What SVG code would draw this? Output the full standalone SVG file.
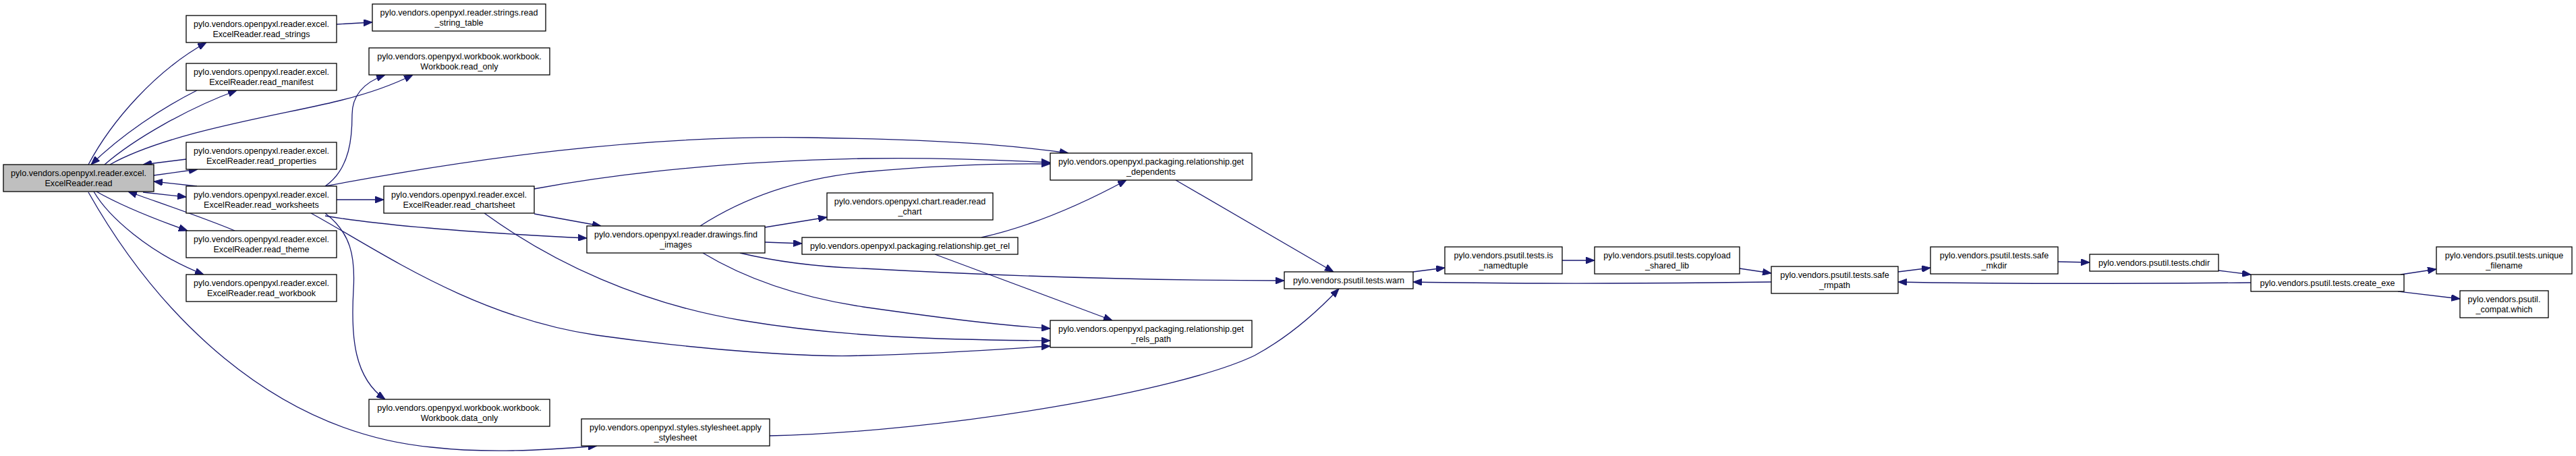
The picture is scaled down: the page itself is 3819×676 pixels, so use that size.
<svg xmlns="http://www.w3.org/2000/svg" width="3819" height="676" viewBox="0 0 3819 676">
<defs>
<style>
.node rect{fill:#fff;stroke:#000;stroke-width:1.3}
.main rect{fill:#bfbfbf}
.node text{font-family:"Liberation Sans",Arial,sans-serif;font-size:12.6px;text-anchor:middle;fill:#000}
.edges path{fill:none;stroke:#191970;stroke-width:1.3;marker-end:url(#arr)}
</style>
<marker id="arr" markerUnits="userSpaceOnUse" viewBox="0 0 13 10" refX="13" refY="5" markerWidth="13" markerHeight="10" orient="auto"><path d="M0,0 L13,5 L0,10 z" fill="#191970" stroke="#191970" stroke-width="1"/></marker>
</defs>
<rect width="3819" height="676" fill="#fff"/>
<g id="edges" class="edges">
<path d="M131,244 C165,180 230,105 306,63"/>
<path d="M499,36 L552,33"/>
<path d="M292,134 C240,160 180,200 135,244"/>
<path d="M155,244 C200,205 280,160 351,134"/>
<path d="M163,244 C250,195 420,170 500,150 C550,138 590,122 612,111"/>
<path d="M276,236 L212,244"/>
<path d="M228,260 L293,251"/>
<path d="M292,276 L228,269"/>
<path d="M212,285 L276,292"/>
<path d="M348,342 C300,322 240,302 190,284"/>
<path d="M143,284 C180,305 230,325 278,342"/>
<path d="M139,284 C160,320 220,375 302,407"/>
<path d="M131,285 C230,460 400,640 640,663 C720,672 800,668 885,661"/>
<path d="M482,276 C520,250 522,200 522,170 C522,140 540,122 571,111"/>
<path d="M482,276 C700,235 950,200 1200,204 C1400,207 1500,215 1584,227"/>
<path d="M499,296 L569,296"/>
<path d="M482,320 C560,333 700,345 870,353"/>
<path d="M482,316 C520,345 527,380 524,430 C520,500 525,560 571,592"/>
<path d="M461,316 C560,370 700,470 885,497 C1050,520 1200,530 1280,527 C1400,524 1480,518 1557,513"/>
<path d="M792,280 C900,260 1050,240 1280,235 C1400,233 1500,238 1557,241"/>
<path d="M792,317 L891,335"/>
<path d="M718,316 C820,390 950,450 1100,475 C1250,500 1400,504 1557,505"/>
<path d="M1038,335 C1100,295 1180,265 1280,255 C1380,246 1480,242 1557,243"/>
<path d="M1134,337 L1226,322"/>
<path d="M1134,359 L1189,361"/>
<path d="M1097,375 C1160,390 1220,396 1280,398 C1500,410 1700,416 1904,416"/>
<path d="M1042,375 C1100,410 1180,440 1280,455 C1400,472 1480,482 1557,487"/>
<path d="M1455,352 C1530,335 1600,305 1670,267"/>
<path d="M1386,377 L1649,475"/>
<path d="M1743,267 L1977,403"/>
<path d="M1141,646 C1400,640 1750,580 1860,527 C1910,500 1950,465 1985,428"/>
<path d="M2095,403 L2142,397"/>
<path d="M2316,386 L2364,386"/>
<path d="M2579,398 L2626,405"/>
<path d="M2626,418 C2400,421 2200,420 2095,418"/>
<path d="M2814,403 L2862,397"/>
<path d="M3051,388 L3098,389"/>
<path d="M3289,401 L3337,407"/>
<path d="M3337,419 C3100,421 2950,421 2814,418"/>
<path d="M3559,407 L3612,399"/>
<path d="M3555,432 L3647,443"/>
</g>
<g id="n_read" class="node main"><rect x="5" y="244" width="223" height="40"/><text x="116.5" y="260.5">pylo.vendors.openpyxl.reader.excel.</text><text x="116.5" y="275.5">ExcelReader.read</text></g>
<g id="n_read_strings" class="node"><rect x="276" y="23" width="223" height="40"/><text x="387.5" y="39.5">pylo.vendors.openpyxl.reader.excel.</text><text x="387.5" y="54.5">ExcelReader.read_strings</text></g>
<g id="n_read_manifest" class="node"><rect x="276" y="94" width="223" height="40"/><text x="387.5" y="110.5">pylo.vendors.openpyxl.reader.excel.</text><text x="387.5" y="125.5">ExcelReader.read_manifest</text></g>
<g id="n_read_properties" class="node"><rect x="276" y="211" width="223" height="40"/><text x="387.5" y="227.5">pylo.vendors.openpyxl.reader.excel.</text><text x="387.5" y="242.5">ExcelReader.read_properties</text></g>
<g id="n_read_worksheets" class="node"><rect x="276" y="276" width="223" height="40"/><text x="387.5" y="292.5">pylo.vendors.openpyxl.reader.excel.</text><text x="387.5" y="307.5">ExcelReader.read_worksheets</text></g>
<g id="n_read_theme" class="node"><rect x="276" y="342" width="223" height="40"/><text x="387.5" y="358.5">pylo.vendors.openpyxl.reader.excel.</text><text x="387.5" y="373.5">ExcelReader.read_theme</text></g>
<g id="n_read_workbook" class="node"><rect x="276" y="407" width="223" height="40"/><text x="387.5" y="423.5">pylo.vendors.openpyxl.reader.excel.</text><text x="387.5" y="438.5">ExcelReader.read_workbook</text></g>
<g id="n_read_string_table" class="node"><rect x="552" y="6" width="257" height="40"/><text x="680.5" y="22.5">pylo.vendors.openpyxl.reader.strings.read</text><text x="680.5" y="37.5">_string_table</text></g>
<g id="n_read_only" class="node"><rect x="547" y="71" width="268" height="40"/><text x="681" y="87.5">pylo.vendors.openpyxl.workbook.workbook.</text><text x="681" y="102.5">Workbook.read_only</text></g>
<g id="n_read_chartsheet" class="node"><rect x="569" y="276" width="223" height="40"/><text x="680.5" y="292.5">pylo.vendors.openpyxl.reader.excel.</text><text x="680.5" y="307.5">ExcelReader.read_chartsheet</text></g>
<g id="n_data_only" class="node"><rect x="547" y="592" width="268" height="40"/><text x="681" y="608.5">pylo.vendors.openpyxl.workbook.workbook.</text><text x="681" y="623.5">Workbook.data_only</text></g>
<g id="n_apply_stylesheet" class="node"><rect x="862" y="621" width="279" height="40"/><text x="1001.5" y="637.5">pylo.vendors.openpyxl.styles.stylesheet.apply</text><text x="1001.5" y="652.5">_stylesheet</text></g>
<g id="n_find_images" class="node"><rect x="870" y="335" width="264" height="40"/><text x="1002" y="351.5">pylo.vendors.openpyxl.reader.drawings.find</text><text x="1002" y="366.5">_images</text></g>
<g id="n_read_chart" class="node"><rect x="1226" y="286" width="246" height="40"/><text x="1349" y="302.5">pylo.vendors.openpyxl.chart.reader.read</text><text x="1349" y="317.5">_chart</text></g>
<g id="n_get_rel" class="node"><rect x="1189" y="352" width="320" height="25"/><text x="1349" y="368.5">pylo.vendors.openpyxl.packaging.relationship.get_rel</text></g>
<g id="n_get_dependents" class="node"><rect x="1557" y="227" width="299" height="40"/><text x="1706.5" y="243.5">pylo.vendors.openpyxl.packaging.relationship.get</text><text x="1706.5" y="258.5">_dependents</text></g>
<g id="n_get_rels_path" class="node"><rect x="1557" y="475" width="299" height="40"/><text x="1706.5" y="491.5">pylo.vendors.openpyxl.packaging.relationship.get</text><text x="1706.5" y="506.5">_rels_path</text></g>
<g id="n_warn" class="node"><rect x="1904" y="403" width="191" height="25"/><text x="1999.5" y="419.5">pylo.vendors.psutil.tests.warn</text></g>
<g id="n_is_namedtuple" class="node"><rect x="2142" y="366" width="174" height="40"/><text x="2229" y="382.5">pylo.vendors.psutil.tests.is</text><text x="2229" y="397.5">_namedtuple</text></g>
<g id="n_copyload" class="node"><rect x="2364" y="366" width="215" height="40"/><text x="2471.5" y="382.5">pylo.vendors.psutil.tests.copyload</text><text x="2471.5" y="397.5">_shared_lib</text></g>
<g id="n_safe_rmpath" class="node"><rect x="2626" y="395" width="188" height="40"/><text x="2720" y="411.5">pylo.vendors.psutil.tests.safe</text><text x="2720" y="426.5">_rmpath</text></g>
<g id="n_safe_mkdir" class="node"><rect x="2862" y="366" width="189" height="40"/><text x="2956.5" y="382.5">pylo.vendors.psutil.tests.safe</text><text x="2956.5" y="397.5">_mkdir</text></g>
<g id="n_chdir" class="node"><rect x="3098" y="377" width="191" height="25"/><text x="3193.5" y="393.5">pylo.vendors.psutil.tests.chdir</text></g>
<g id="n_create_exe" class="node"><rect x="3337" y="407" width="227" height="25"/><text x="3450.5" y="423.5">pylo.vendors.psutil.tests.create_exe</text></g>
<g id="n_unique_filename" class="node"><rect x="3612" y="366" width="201" height="40"/><text x="3712.5" y="382.5">pylo.vendors.psutil.tests.unique</text><text x="3712.5" y="397.5">_filename</text></g>
<g id="n_which" class="node"><rect x="3647" y="431" width="131" height="40"/><text x="3712.5" y="447.5">pylo.vendors.psutil.</text><text x="3712.5" y="462.5">_compat.which</text></g>
</svg>
